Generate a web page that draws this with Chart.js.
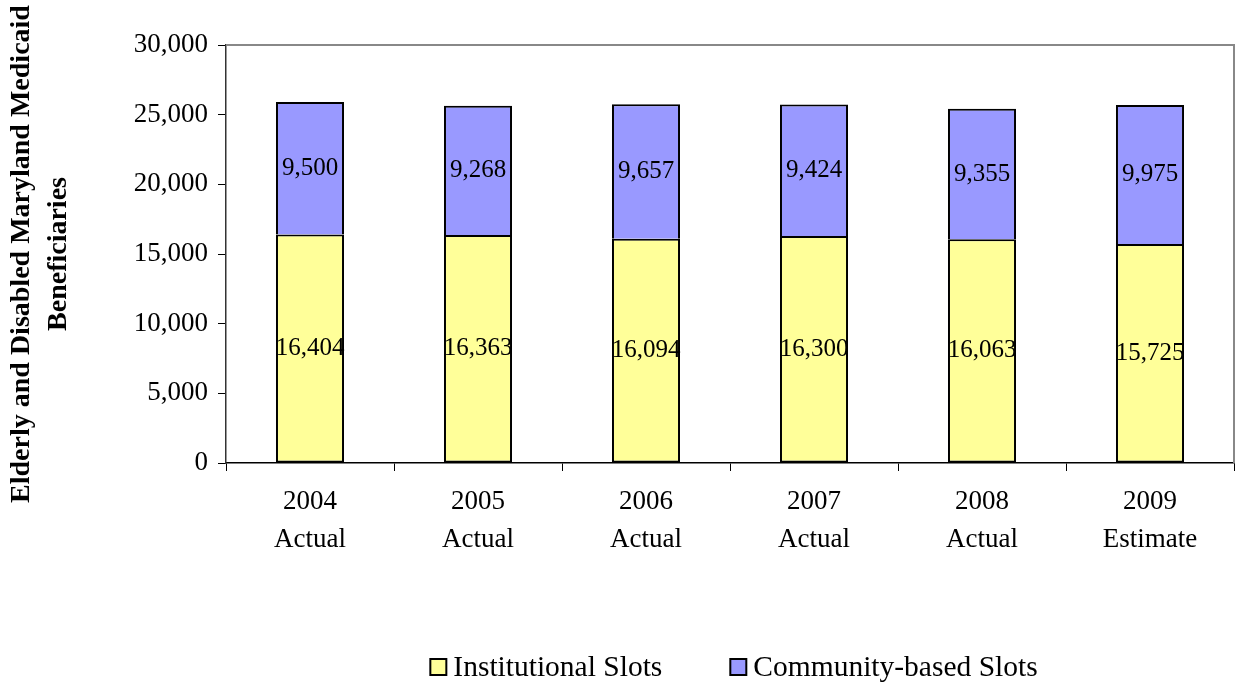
<!DOCTYPE html>
<html>
<head>
<meta charset="utf-8">
<script src="https://cdn.jsdelivr.net/npm/chart.js@4.4.1/dist/chart.umd.min.js"></script>
<style>
html,body{margin:0;padding:0;background:#fff;}
#wrap{width:1235px;height:683px;position:relative;}
</style>
</head>
<body>
<div id="wrap"><canvas id="c" width="1235" height="683"></canvas></div>
<script>
const categories = [["2004","Actual"],["2005","Actual"],["2006","Actual"],["2007","Actual"],["2008","Actual"],["2009","Estimate"]];
const institutionalSlots = [16404, 16363, 16094, 16300, 16063, 15725];
const communitySlots = [9500, 9268, 9657, 9424, 9355, 9975];
const seriesNames = ["Institutional Slots", "Community-based Slots"];
const yAxisTitle = ["Elderly and Disabled Maryland Medicaid", "Beneficiaries"];

const SERIF = "'Liberation Serif', 'Times New Roman', serif";

const valueLabels = {
  id: 'valueLabels',
  afterDatasetsDraw(chart) {
    const ctx = chart.ctx;
    ctx.save();
    ctx.font = "25px " + SERIF;
    ctx.fillStyle = '#000';
    ctx.textAlign = 'center';
    ctx.textBaseline = 'middle';
    chart.data.datasets.forEach((ds, di) => {
      const meta = chart.getDatasetMeta(di);
      meta.data.forEach((el, i) => {
        const y = (el.y + el.base) / 2;
        ctx.fillText(ds.data[i].toLocaleString('en-US'), el.x, y);
      });
    });
    ctx.restore();
  }
};

const frame = {
  id: 'frame',
  afterDraw(chart) {
    const a = chart.chartArea;
    const ctx = chart.ctx;
    ctx.save();
    ctx.strokeStyle = '#888';
    ctx.lineWidth = 2;
    ctx.beginPath();
    ctx.moveTo(a.left, a.top);
    ctx.lineTo(a.right, a.top);
    ctx.lineTo(a.right, a.bottom);
    ctx.stroke();
    // custom legend
    ctx.font = "29.5px " + SERIF;
    ctx.textBaseline = 'middle';
    ctx.textAlign = 'left';
    const box = 16, gapText = 7, gapItems = 68;
    const items = chart.data.datasets.map(d => ({text: d.label, color: d.backgroundColor, w: box + gapText + ctx.measureText(d.label).width}));
    const total = items.reduce((s, it) => s + it.w, 0) + gapItems * (items.length - 1);
    let x = (a.left + a.right) / 2 - total / 2 + 4;
    const cy = 667;
    items.forEach(it => {
      ctx.fillStyle = it.color;
      ctx.fillRect(x, cy - box / 2, box, box);
      ctx.strokeStyle = '#000';
      ctx.lineWidth = 2;
      ctx.strokeRect(x, cy - box / 2, box, box);
      ctx.fillStyle = '#000';
      ctx.fillText(it.text, x + box + gapText, cy + 1);
      x += it.w + gapItems;
    });
    ctx.restore();
  }
};

new Chart(document.getElementById('c'), {
  type: 'bar',
  data: {
    labels: categories,
    datasets: [
      { label: seriesNames[0], data: institutionalSlots, backgroundColor: '#FFFF99', borderColor: '#000', borderWidth: 2, borderSkipped: false },
      { label: seriesNames[1], data: communitySlots, backgroundColor: '#9999FF', borderColor: '#000', borderWidth: 2, borderSkipped: 'start' }
    ]
  },
  options: {
    responsive: false,
    animation: false,
    devicePixelRatio: 1,
    layout: { padding: { left: 0, right: 1, top: 45, bottom: 0 } },
    datasets: { bar: { categoryPercentage: 1.0, barPercentage: 0.405 } },
    plugins: { legend: { display: false }, tooltip: { enabled: false }, title: { display: false } },
    scales: {
      x: {
        stacked: true,
        grid: { offset: true, drawOnChartArea: false, drawTicks: true, tickLength: 8, color: '#000', lineWidth: 1 },
        border: { display: true, color: '#000', width: 1.5 },
        ticks: { color: '#000', padding: 12, maxRotation: 0, autoSkip: false, font: { family: SERIF, size: 27, lineHeight: 1.41 } },
        afterFit(scale) { scale.height = 220; }
      },
      y: {
        stacked: true,
        min: 0, max: 30000,
        ticks: { stepSize: 5000, color: '#000', padding: 10, font: { family: SERIF, size: 27 }, callback: v => v.toLocaleString('en-US') },
        grid: { drawOnChartArea: false, drawTicks: true, tickLength: 8, color: '#000', lineWidth: 1 },
        border: { display: true, color: '#333', width: 1.5 },
        title: { display: true, text: yAxisTitle, color: '#000', padding: { top: 4, bottom: 0 }, font: { family: SERIF, size: 28, weight: 'bold', lineHeight: 1.3 } },
        afterFit(scale) { scale.width = 226; }
      }
    }
  },
  plugins: [valueLabels, frame]
});
</script>
</body>
</html>
